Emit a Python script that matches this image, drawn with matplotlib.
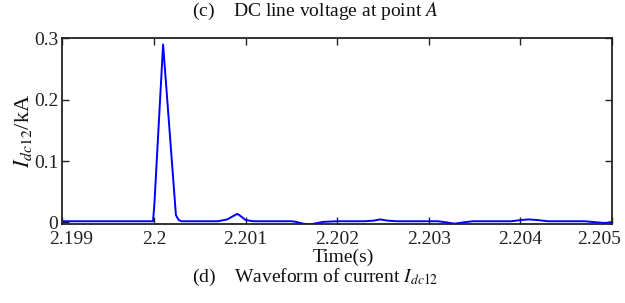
import matplotlib
matplotlib.use("Agg")
import matplotlib.pyplot as plt
import matplotlib.ticker as mtick
import matplotlib.transforms as mtrans

# ------------------------------------------------------------------
# Data (time in s, current in kA)
# ------------------------------------------------------------------
time_s = [
    2.1990, 2.19999, 2.200005, 2.20010, 2.20024, 2.20027, 2.20030,
    2.20070, 2.20080, 2.20086, 2.20091, 2.20095, 2.20100, 2.20108, 2.20150,
    2.20155, 2.20163, 2.20171, 2.20178, 2.20185, 2.20200,
    2.20230, 2.20240, 2.20247, 2.20255, 2.20265,
    2.20310, 2.20320, 2.20328, 2.20337, 2.20348,
    2.20390, 2.20401, 2.20409, 2.20418, 2.20430,
    2.20470, 2.20485, 2.20494, 2.20500,
]
current_ka = [
    0.002, 0.002, 0.030, 0.290, 0.012, 0.004, 0.002,
    0.002, 0.005, 0.010, 0.014, 0.010, 0.004, 0.002, 0.002,
    0.001, -0.002, -0.003, -0.001, 0.001, 0.002,
    0.002, 0.003, 0.005, 0.003, 0.002,
    0.002, 0.000, -0.002, 0.000, 0.002,
    0.002, 0.004, 0.005, 0.004, 0.002,
    0.002, 0.000, -0.001, 0.001,
]

x_ticks = [2.199, 2.200, 2.201, 2.202, 2.203, 2.204, 2.205]
x_tick_labels = ["2.199", "2.2", "2.201", "2.202", "2.203", "2.204", "2.205"]
y_ticks = [0, 0.1, 0.2, 0.3]
y_tick_labels = ["0", "0.1", "0.2", "0.3"]

# ------------------------------------------------------------------
# Plotting
# ------------------------------------------------------------------
plt.rcParams["font.family"] = ["Liberation Serif", "DejaVu Serif"]
plt.rcParams["mathtext.fontset"] = "stix"

fig = plt.figure(figsize=(6.25, 3.03), dpi=100)
ax = fig.add_axes([0.0997, 0.2597, 0.8795, 0.6139])

ax.plot(time_s, current_ka, color="#0000ff", linewidth=1.4)

ax.set_xlim(2.199, 2.205)
ax.set_ylim(-0.003, 0.3)
ax.xaxis.set_major_locator(mtick.FixedLocator(x_ticks))
ax.xaxis.set_major_formatter(mtick.FixedFormatter(x_tick_labels))
ax.yaxis.set_major_locator(mtick.FixedLocator(y_ticks))
ax.yaxis.set_major_formatter(mtick.FixedFormatter(y_tick_labels))

ax.tick_params(direction="in", top=True, right=True, length=5, width=1.0,
               labelsize=14, colors="#222222")
ax.tick_params(axis="x", pad=5)
ax.tick_params(axis="y", pad=3)
for sp in ax.spines.values():
    sp.set_linewidth(1.3)
    sp.set_color("#222222")

# MATLAB nudges the end labels inwards so they stay inside the figure
fig.canvas.draw()
xlabels = ax.get_xticklabels()
xlabels[0].set_horizontalalignment("left")
xlabels[0].set_transform(xlabels[0].get_transform()
                         + mtrans.ScaledTranslation(-13 / 100, 0, fig.dpi_scale_trans))
xlabels[-1].set_horizontalalignment("right")
xlabels[-1].set_transform(xlabels[-1].get_transform()
                          + mtrans.ScaledTranslation(9 / 100, 0, fig.dpi_scale_trans))

ax.set_ylabel(r"$I_{dc12}$/kA", fontsize=16, labelpad=0, color="#111111")

fig.text(0.505, 0.963, r"(c)    DC line voltage at point $A$",
         ha="center", va="center", fontsize=14, color="#111111")
fig.text(0.549, 0.152, "Time(s)", ha="center", va="center", fontsize=14,
         color="#111111")
fig.text(0.505, 0.085, r"(d)    Waveform of current $I_{dc12}$",
         ha="center", va="center", fontsize=14, color="#111111")

fig.savefig("out.png", dpi=100)
